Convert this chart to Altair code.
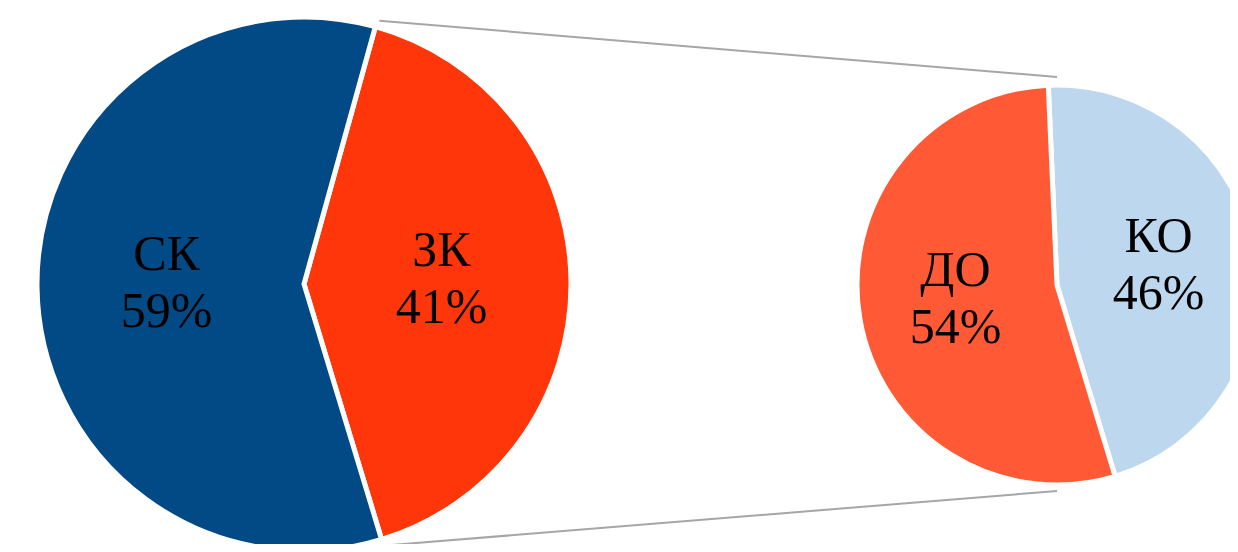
import math
import altair as alt
import pandas as pd

# ---- data ----
left_cats = ["ЗК", "СК"]
left_vals = [41, 59]
right_cats = ["КО", "ДО"]
right_vals = [46, 54]
all_cats = ["СК", "ЗК", "ДО", "КО"]
all_colors = ["#024a86", "#ff360a", "#ff5a35", "#bdd7ee"]

# ---- layout (svg pixels) ----
CX1, CY1, R1 = 296, 276, 267
CX2, CY2, R2 = 1049, 277, 200
START1 = math.radians(15.5)
START2 = math.radians(-2.5)
FONT = "Liberation Serif"

left_df = pd.DataFrame({
    "cat": left_cats, "value": left_vals, "ord": [0, 1],
    "label": [f"{c}\n{v}%" for c, v in zip(left_cats, left_vals)],
})
right_df = pd.DataFrame({
    "cat": right_cats, "value": right_vals, "ord": [0, 1],
    "label": [f"{c}\n{v}%" for c, v in zip(right_cats, right_vals)],
})

color = alt.Color("cat:N", scale=alt.Scale(domain=all_cats, range=all_colors), legend=None)


def pie(df, start, cx, cy, r):
    theta = alt.Theta("value:Q", stack=True,
                      scale=alt.Scale(domain=[0, 100], range=[start, start + 2 * math.pi]))
    base = alt.Chart(df).encode(theta=theta, order=alt.Order("ord:Q"))
    arcs = base.mark_arc(outerRadius=r, stroke="white", strokeWidth=5).encode(
        color=color, x=alt.value(cx), y=alt.value(cy))
    text = base.mark_text(radius=r * 0.515, font=FONT, fontSize=50, lineHeight=57,
                          lineBreak="\n", color="black", baseline="middle", align="center",
                          dy=-31).encode(
        text="label:N", x=alt.value(cx), y=alt.value(cy))
    return arcs, text


# connector lines from the split slice edges of the first pie to the second pie
a0 = START1
a1 = START1 + 2 * math.pi * left_vals[0] / 100
conn = pd.DataFrame({
    "x1": [CX1 + R1 * math.sin(a0) + 4, CX1 + R1 * math.sin(a1) + 4],
    "y1": [CY1 - R1 * math.cos(a0) - 6, CY1 - R1 * math.cos(a1) + 6],
    "x2": [CX2, CX2],
    "y2": [CY2 - R2 - 8, CY2 + R2 + 6],
})
lines = alt.Chart(conn).mark_rule(color="#a6a6a6", strokeWidth=2).encode(
    x=alt.X("x1:Q", scale=None), y=alt.Y("y1:Q", scale=None),
    x2="x2:Q", y2="y2:Q")

la, lt = pie(left_df, START1, CX1, CY1, R1)
ra, rt = pie(right_df, START2, CX2, CY2, R2)

chart = alt.layer(lines, la, lt, ra, rt).resolve_scale(theta="independent").properties(
    width=1222, height=536, padding=0, autosize=alt.AutoSizeParams(type="none")
).configure_view(stroke=None)

chart.save("out.html", embed_options={"renderer": "svg", "actions": False})
